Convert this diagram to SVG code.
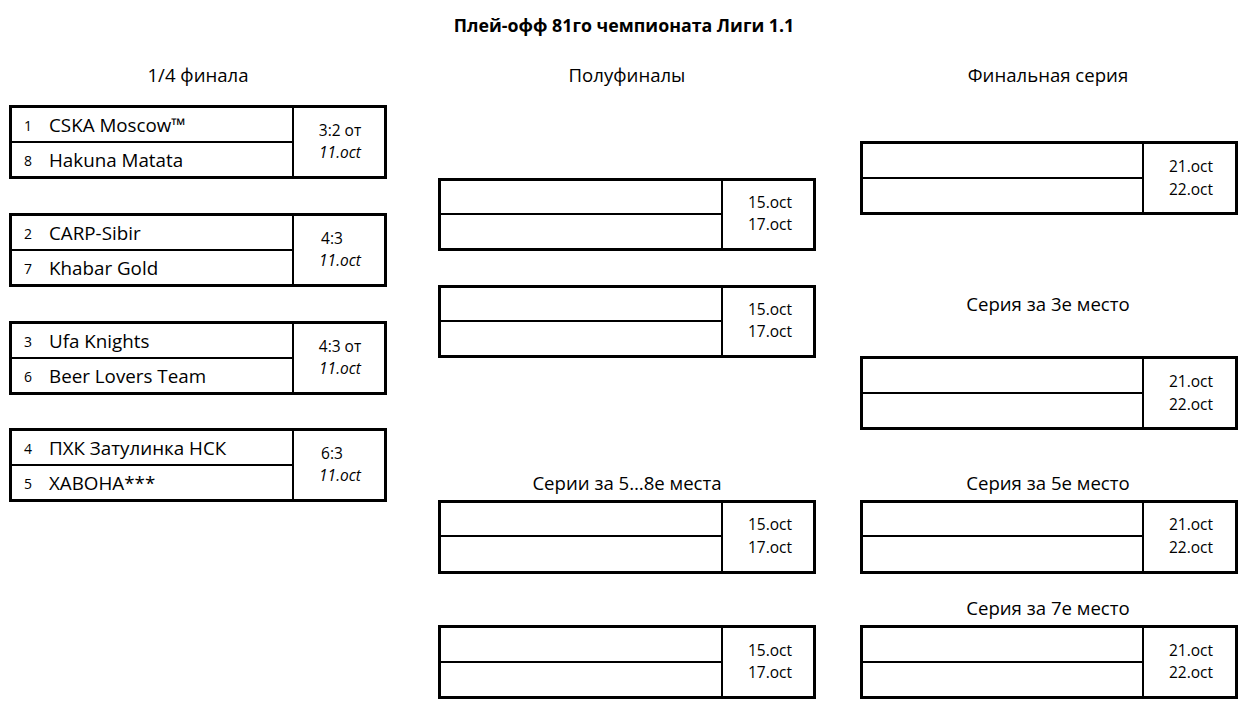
<svg xmlns="http://www.w3.org/2000/svg" width="1244" height="707" viewBox="0 0 1244 707">
<style>
text{font-family:"Open Sans","Noto Sans","Liberation Sans",sans-serif;fill:#000}
.title{font-size:17.8px;font-weight:bold;text-anchor:middle}
.hdr{font-size:18.6px;text-anchor:middle}
.seed{font-size:14px}
.team{font-size:18.8px}
.sc{font-size:15.5px;text-anchor:middle}
.it{font-style:italic}
.box{fill:#fff;stroke:#000;stroke-width:3}
.ln{stroke:#000;stroke-width:2}
</style>
<rect width="1244" height="707" fill="#fff"/>
<text class="title" x="624" y="32">Плей-офф 81го чемпионата Лиги 1.1</text>
<text class="hdr" x="198" y="82">1/4 финала</text>
<text class="hdr" x="627" y="82">Полуфиналы</text>
<text class="hdr" x="1048" y="82">Финальная серия</text>
<text class="hdr" x="1048" y="311">Серия за 3е место</text>
<text class="hdr" x="627" y="490">Серии за 5…8е места</text>
<text class="hdr" x="1048" y="490">Серия за 5е место</text>
<text class="hdr" x="1048" y="615">Серия за 7е место</text>

<g id="qf1">
<rect class="box" x="10.5" y="106.5" width="375" height="71"/>
<line class="ln" x1="10" y1="142" x2="293" y2="142"/>
<line class="ln" x1="293" y1="106" x2="293" y2="178"/>
<text class="seed" x="24" y="131">1</text><text class="team" x="49" y="132">CSKA Moscow™</text>
<text class="seed" x="24" y="166">8</text><text class="team" x="49" y="167">Hakuna Matata</text>
<text class="sc" x="340" y="136">3:2 от</text><text class="sc it" x="340" y="158">11.oct</text>
</g>
<g id="qf2">
<rect class="box" x="10.5" y="214.5" width="375" height="71"/>
<line class="ln" x1="10" y1="250" x2="293" y2="250"/>
<line class="ln" x1="293" y1="214" x2="293" y2="286"/>
<text class="seed" x="24" y="239">2</text><text class="team" x="49" y="240">CARP-Sibir</text>
<text class="seed" x="24" y="274">7</text><text class="team" x="49" y="275">Khabar Gold</text>
<text class="sc" x="332" y="244">4:3</text><text class="sc it" x="340" y="266">11.oct</text>
</g>
<g id="qf3">
<rect class="box" x="10.5" y="322.5" width="375" height="71"/>
<line class="ln" x1="10" y1="358" x2="293" y2="358"/>
<line class="ln" x1="293" y1="322" x2="293" y2="394"/>
<text class="seed" x="24" y="347">3</text><text class="team" x="49" y="348">Ufa Knights</text>
<text class="seed" x="24" y="382">6</text><text class="team" x="49" y="383">Beer Lovers Team</text>
<text class="sc" x="340" y="352">4:3 от</text><text class="sc it" x="340" y="374">11.oct</text>
</g>
<g id="qf4">
<rect class="box" x="10.5" y="429.5" width="375" height="71"/>
<line class="ln" x1="10" y1="465" x2="293" y2="465"/>
<line class="ln" x1="293" y1="429" x2="293" y2="501"/>
<text class="seed" x="24" y="454">4</text><text class="team" x="49" y="455">ПХК Затулинка НСК</text>
<text class="seed" x="24" y="489">5</text><text class="team" x="49" y="490">ХАВОНА***</text>
<text class="sc" x="332" y="459">6:3</text><text class="sc it" x="340" y="481">11.oct</text>
</g>

<g id="sf1">
<rect class="box" x="439.5" y="179.5" width="375" height="70"/>
<line class="ln" x1="439" y1="214" x2="722" y2="214"/>
<line class="ln" x1="722" y1="179" x2="722" y2="250"/>
<text class="sc" x="770" y="208">15.oct</text><text class="sc" x="770" y="230">17.oct</text>
</g>
<g id="sf2">
<rect class="box" x="439.5" y="286.5" width="375" height="70"/>
<line class="ln" x1="439" y1="321" x2="722" y2="321"/>
<line class="ln" x1="722" y1="286" x2="722" y2="357"/>
<text class="sc" x="770" y="315">15.oct</text><text class="sc" x="770" y="337">17.oct</text>
</g>
<g id="p58a">
<rect class="box" x="439.5" y="501.5" width="375" height="71"/>
<line class="ln" x1="439" y1="536" x2="722" y2="536"/>
<line class="ln" x1="722" y1="501" x2="722" y2="573"/>
<text class="sc" x="770" y="530">15.oct</text><text class="sc" x="770" y="553">17.oct</text>
</g>
<g id="p58b">
<rect class="box" x="439.5" y="626.5" width="375" height="71"/>
<line class="ln" x1="439" y1="662" x2="722" y2="662"/>
<line class="ln" x1="722" y1="626" x2="722" y2="698"/>
<text class="sc" x="770" y="656">15.oct</text><text class="sc" x="770" y="678">17.oct</text>
</g>

<g id="final">
<rect class="box" x="861.5" y="142.5" width="375" height="71"/>
<line class="ln" x1="861" y1="178" x2="1143" y2="178"/>
<line class="ln" x1="1143" y1="142" x2="1143" y2="214"/>
<text class="sc" x="1191" y="172">21.oct</text><text class="sc" x="1191" y="195">22.oct</text>
</g>
<g id="third">
<rect class="box" x="861.5" y="357.5" width="375" height="71"/>
<line class="ln" x1="861" y1="393" x2="1143" y2="393"/>
<line class="ln" x1="1143" y1="357" x2="1143" y2="429"/>
<text class="sc" x="1191" y="387">21.oct</text><text class="sc" x="1191" y="410">22.oct</text>
</g>
<g id="fifth">
<rect class="box" x="861.5" y="501.5" width="375" height="71"/>
<line class="ln" x1="861" y1="536" x2="1143" y2="536"/>
<line class="ln" x1="1143" y1="501" x2="1143" y2="573"/>
<text class="sc" x="1191" y="530">21.oct</text><text class="sc" x="1191" y="553">22.oct</text>
</g>
<g id="seventh">
<rect class="box" x="861.5" y="626.5" width="375" height="71"/>
<line class="ln" x1="861" y1="662" x2="1143" y2="662"/>
<line class="ln" x1="1143" y1="626" x2="1143" y2="698"/>
<text class="sc" x="1191" y="656">21.oct</text><text class="sc" x="1191" y="678">22.oct</text>
</g>
<g id="connectors"/>
</svg>
